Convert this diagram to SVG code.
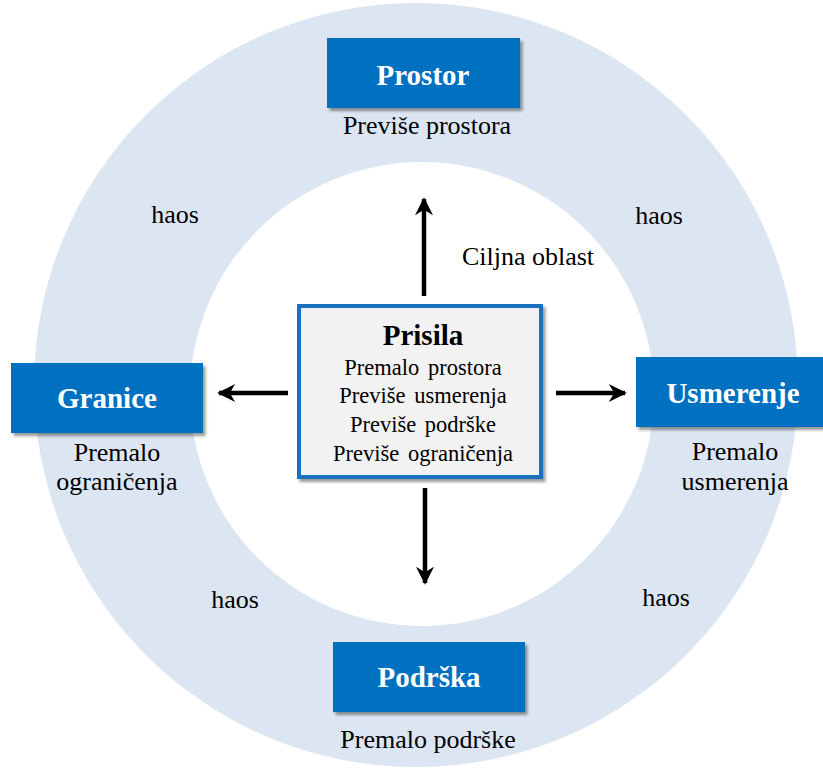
<svg xmlns="http://www.w3.org/2000/svg" width="823" height="769" viewBox="0 0 823 769">
<style>
.t{font-family:"Liberation Serif","Times New Roman",serif;fill:#000;text-anchor:middle}
.lbl{font-size:26px}
.ttl{font-size:29px;font-weight:bold;fill:#fff}
.box{fill:#0070C0;filter:url(#sh)}
.ctr{font-size:22.5px;word-spacing:3px}
.arr{stroke:#000;stroke-width:4.5;fill:none;marker-end:url(#ah)}
</style>
<defs>
<filter id="sh" x="-10%" y="-10%" width="125%" height="130%">
<feDropShadow dx="2.5" dy="3" stdDeviation="1.8" flood-color="#000" flood-opacity="0.4"/>
</filter>
<marker id="ah" viewBox="0 0 10 10" refX="9" refY="5" markerWidth="4.4" markerHeight="4" orient="auto" markerUnits="strokeWidth">
<path d="M0,0 L10,5 L0,10 L3,5 Z" fill="#000"/>
</marker>
</defs>
<rect width="823" height="769" fill="#fff"/>
<g id="ring">
<circle cx="416" cy="385" r="382" fill="#DCE6F2"/>
<circle cx="422" cy="394" r="232" fill="#fff"/>
</g>
<g id="connectors">
<line class="arr" x1="424" y1="296" x2="424" y2="199"/>
<line class="arr" x1="288" y1="393" x2="219" y2="393"/>
<line class="arr" x1="556" y1="393" x2="625" y2="393"/>
<line class="arr" x1="425" y1="488" x2="425" y2="583"/>
</g>
<g id="prostor">
<rect class="box" x="327" y="38" width="193" height="70"/>
<text class="t ttl" x="423" y="85">Prostor</text>
<text class="t lbl" x="427" y="134">Previše prostora</text>
</g>
<g id="granice">
<rect class="box" x="11" y="363" width="192" height="70"/>
<text class="t ttl" x="107" y="408">Granice</text>
<text class="t lbl" x="117" y="461">Premalo</text>
<text class="t lbl" x="117" y="490">ograničenja</text>
</g>
<g id="usmerenje">
<rect class="box" x="636" y="357" width="190" height="70"/>
<text class="t ttl" x="733" y="403">Usmerenje</text>
<text class="t lbl" x="735" y="460">Premalo</text>
<text class="t lbl" x="735" y="490">usmerenja</text>
</g>
<g id="podrska">
<rect class="box" x="333" y="642" width="192" height="70"/>
<text class="t ttl" x="429" y="687">Podrška</text>
<text class="t lbl" x="428" y="748">Premalo podrške</text>
</g>
<g id="prisila">
<rect x="299" y="306" width="242" height="171" fill="#F2F2F2" stroke="#1F6FC0" stroke-width="4" filter="url(#sh)"/>
<text class="t" x="423" y="345" style="font-size:29px;font-weight:bold">Prisila</text>
<text class="t ctr" x="423" y="375">Premalo prostora</text>
<text class="t ctr" x="423" y="403">Previše usmerenja</text>
<text class="t ctr" x="423" y="432">Previše podrške</text>
<text class="t ctr" x="423" y="461">Previše ograničenja</text>
</g>
<g id="labels">
<text class="t lbl" x="528" y="265">Ciljna oblast</text>
<text class="t lbl" x="175" y="223">haos</text>
<text class="t lbl" x="659" y="224">haos</text>
<text class="t lbl" x="235" y="608">haos</text>
<text class="t lbl" x="666" y="606">haos</text>
</g>
</svg>
